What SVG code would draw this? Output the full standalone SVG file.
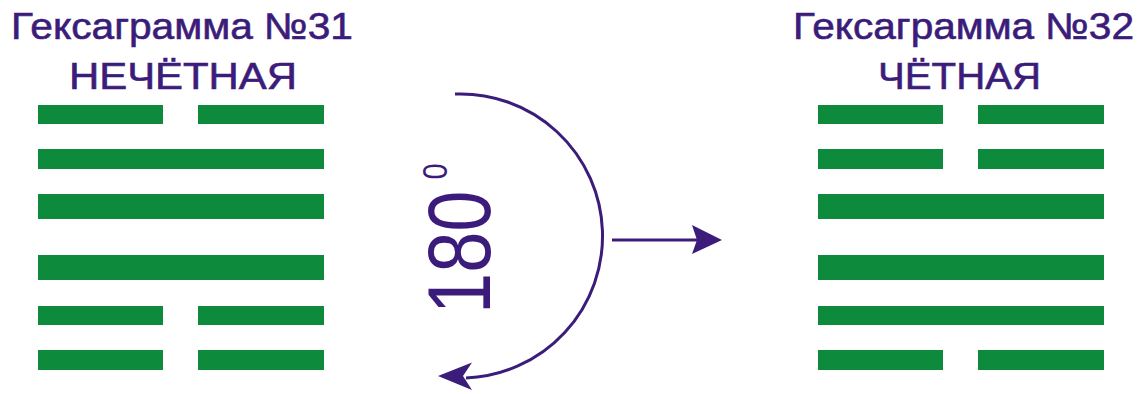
<svg xmlns="http://www.w3.org/2000/svg" width="1146" height="394" viewBox="0 0 1146 394">
  <style>
    .title { font-family: "Liberation Sans", Arial, sans-serif; font-size: 37px; fill: #3b1c7a; stroke: #3b1c7a; stroke-width: 0.6; }
    .deg { font-family: "Liberation Sans", Arial, sans-serif; fill: #3b1c7a; }
    .bar { fill: #0e8a3d; }
    .conn { fill: none; stroke: #3b1c7a; stroke-width: 3; }
    .head { fill: #3b1c7a; }
  </style>
  <rect width="1146" height="394" fill="#ffffff"/>

  <g id="hexagram-31">
    <text class="title" x="11" y="39" textLength="342" lengthAdjust="spacingAndGlyphs">Гексаграмма №31</text>
    <text class="title" x="69" y="89" textLength="228" lengthAdjust="spacingAndGlyphs">НЕЧЁТНАЯ</text>
    <rect class="bar" x="38" y="105" width="125" height="19"/>
    <rect class="bar" x="198" y="105" width="126" height="19"/>
    <rect class="bar" x="38" y="149" width="286" height="20"/>
    <rect class="bar" x="38" y="194" width="286" height="25"/>
    <rect class="bar" x="38" y="255" width="286" height="25"/>
    <rect class="bar" x="38" y="306" width="125" height="19"/>
    <rect class="bar" x="198" y="306" width="126" height="19"/>
    <rect class="bar" x="38" y="350" width="125" height="20"/>
    <rect class="bar" x="198" y="350" width="126" height="20"/>
  </g>

  <g id="hexagram-32">
    <text class="title" x="793" y="39" textLength="341" lengthAdjust="spacingAndGlyphs">Гексаграмма №32</text>
    <text class="title" x="878" y="89" textLength="163" lengthAdjust="spacingAndGlyphs">ЧЁТНАЯ</text>
    <rect class="bar" x="818" y="105" width="125" height="19"/>
    <rect class="bar" x="978" y="105" width="126" height="19"/>
    <rect class="bar" x="818" y="149" width="125" height="20"/>
    <rect class="bar" x="978" y="149" width="126" height="20"/>
    <rect class="bar" x="818" y="194" width="286" height="25"/>
    <rect class="bar" x="818" y="255" width="286" height="25"/>
    <rect class="bar" x="818" y="306" width="286" height="19"/>
    <rect class="bar" x="818" y="350" width="125" height="20"/>
    <rect class="bar" x="978" y="350" width="126" height="20"/>
  </g>

  <g id="rotation-label">
    <text class="deg" transform="translate(490,314) scale(1.2,1) rotate(-90)" font-size="74">180<tspan font-size="29" dx="11" dy="-36">0</tspan></text>
  </g>

  <g id="connectors">
    <path class="conn" d="M455,94 A142,142 0 0 1 466,378"/>
    <polygon class="head" points="438,376 472,362.5 463,376 472,390"/>
    <line class="conn" x1="612" y1="240" x2="698" y2="240"/>
    <polygon class="head" points="722,240 692,225 697,240 692,254"/>
  </g>
</svg>
